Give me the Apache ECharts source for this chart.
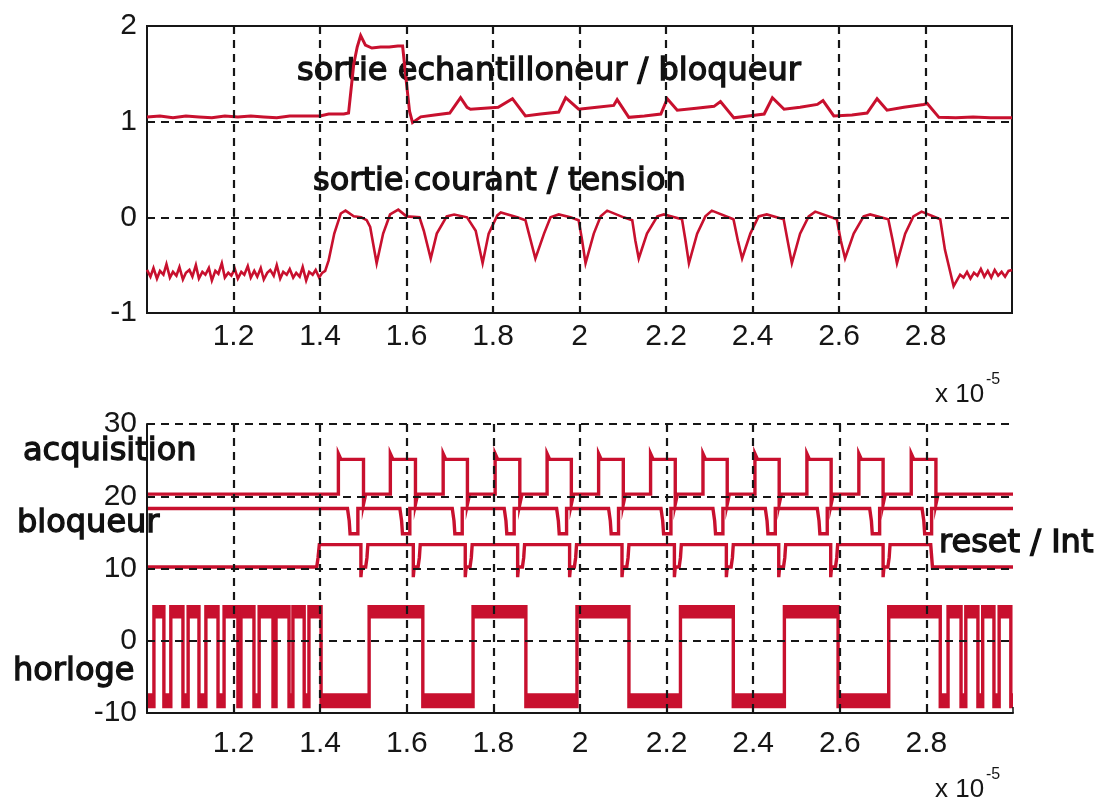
<!DOCTYPE html>
<html>
<head>
<meta charset="utf-8">
<script src="https://cdn.jsdelivr.net/npm/echarts@6/dist/echarts.min.js"></script>
<style>
  html, body { margin: 0; padding: 0; background: #ffffff; }
  #chart { width: 1096px; height: 803px; }
</style>
</head>
<body>
<div id="chart"></div>
<script>
// Time axis is expressed in units of 1e-5 s (see the "x 10^-5" note under each axis).
const xTickValues = [1.2, 1.4, 1.6, 1.8, 2.0, 2.2, 2.4, 2.6, 2.8];
const xTickLabels = ['1.2', '1.4', '1.6', '1.8', '2', '2.2', '2.4', '2.6', '2.8'];

// ---------- top panel: analog outputs [t, V] ----------
// sample-and-hold output
const sortieEchBloq = [
  [1.000, 1.05], [1.030, 1.06], [1.060, 1.04], [1.090, 1.06], [1.120, 1.05], [1.150, 1.04],
  [1.180, 1.06], [1.210, 1.05], [1.240, 1.06], [1.270, 1.05], [1.300, 1.04], [1.330, 1.06],
  [1.360, 1.06], [1.400, 1.06], [1.420, 1.08], [1.455, 1.08], [1.466, 1.09], [1.478, 1.60],
  [1.486, 1.78], [1.494, 1.90], [1.505, 1.80], [1.520, 1.77], [1.540, 1.78], [1.560, 1.78],
  [1.580, 1.79], [1.591, 1.79], [1.600, 1.40], [1.607, 1.11], [1.614, 0.99], [1.633, 1.05],
  [1.665, 1.07], [1.700, 1.09], [1.725, 1.25], [1.740, 1.15], [1.748, 1.13], [1.780, 1.14],
  [1.812, 1.15], [1.845, 1.24], [1.875, 1.06], [1.910, 1.08], [1.952, 1.10], [1.968, 1.25],
  [1.998, 1.13], [2.040, 1.15], [2.079, 1.17], [2.087, 1.23], [2.114, 1.045], [2.150, 1.06],
  [2.188, 1.08], [2.203, 1.24], [2.226, 1.12], [2.270, 1.14], [2.311, 1.16], [2.326, 1.21],
  [2.357, 1.04], [2.390, 1.06], [2.427, 1.08], [2.446, 1.25], [2.473, 1.13], [2.510, 1.15],
  [2.550, 1.18], [2.563, 1.22], [2.588, 1.06], [2.630, 1.07], [2.665, 1.09], [2.688, 1.24],
  [2.711, 1.12], [2.750, 1.15], [2.796, 1.18], [2.804, 1.19], [2.831, 1.045], [2.870, 1.04],
  [2.910, 1.05], [2.950, 1.04], [3.000, 1.04]
];

// current-to-voltage converter output
const sortieCourTens = [
  [1.000, -0.55], [1.008, -0.62], [1.015, -0.53], [1.023, -0.64], [1.030, -0.56], [1.038, -0.60],
  [1.045, -0.49], [1.053, -0.63], [1.060, -0.57], [1.068, -0.61], [1.075, -0.52], [1.083, -0.65],
  [1.090, -0.58], [1.098, -0.55], [1.105, -0.62], [1.113, -0.50], [1.120, -0.64], [1.128, -0.57],
  [1.135, -0.60], [1.143, -0.53], [1.150, -0.66], [1.158, -0.56], [1.165, -0.59], [1.173, -0.48],
  [1.180, -0.63], [1.188, -0.58], [1.195, -0.61], [1.203, -0.54], [1.210, -0.64], [1.218, -0.57],
  [1.225, -0.60], [1.233, -0.51], [1.240, -0.63], [1.248, -0.56], [1.255, -0.62], [1.263, -0.53],
  [1.270, -0.65], [1.278, -0.58], [1.285, -0.55], [1.293, -0.61], [1.300, -0.50], [1.308, -0.64],
  [1.315, -0.57], [1.323, -0.60], [1.330, -0.54], [1.338, -0.63], [1.345, -0.58], [1.353, -0.62],
  [1.360, -0.52], [1.368, -0.66], [1.375, -0.57], [1.383, -0.60], [1.390, -0.55], [1.398, -0.63],
  [1.405, -0.58], [1.412, -0.56], [1.420, -0.45], [1.433, -0.17], [1.448, 0.04], [1.459, 0.07],
  [1.478, 0.01], [1.495, 0.00], [1.508, -0.03], [1.516, -0.10], [1.531, -0.48], [1.546, -0.17],
  [1.562, 0.03], [1.581, 0.08], [1.600, 0.01], [1.630, 0.00], [1.640, -0.14], [1.656, -0.43],
  [1.670, -0.17], [1.693, 0.01], [1.710, 0.03], [1.740, 0.00], [1.760, -0.14], [1.776, -0.48],
  [1.790, -0.17], [1.810, 0.02], [1.818, 0.05], [1.856, 0.00], [1.875, -0.03], [1.883, -0.17],
  [1.898, -0.43], [1.918, -0.17], [1.933, 0.00], [1.952, 0.03], [1.979, 0.00], [1.998, -0.03],
  [2.006, -0.24], [2.014, -0.48], [2.033, -0.17], [2.049, 0.01], [2.064, 0.07], [2.102, 0.00],
  [2.122, -0.03], [2.129, -0.24], [2.137, -0.43], [2.156, -0.17], [2.180, 0.01], [2.195, 0.03],
  [2.237, -0.02], [2.245, -0.24], [2.253, -0.48], [2.272, -0.17], [2.291, 0.01], [2.306, 0.07],
  [2.356, -0.02], [2.366, -0.24], [2.376, -0.43], [2.395, -0.17], [2.414, 0.01], [2.433, 0.03],
  [2.472, -0.02], [2.481, -0.24], [2.491, -0.48], [2.510, -0.17], [2.530, 0.01], [2.545, 0.06],
  [2.595, -0.02], [2.604, -0.24], [2.614, -0.43], [2.634, -0.17], [2.657, 0.01], [2.672, 0.03],
  [2.714, -0.02], [2.724, -0.24], [2.734, -0.48], [2.753, -0.17], [2.772, 0.01], [2.791, 0.06],
  [2.834, -0.02], [2.845, -0.34], [2.865, -0.72], [2.880, -0.60], [2.888, -0.63], [2.896, -0.57],
  [2.904, -0.64], [2.912, -0.58], [2.920, -0.61], [2.928, -0.54], [2.936, -0.62], [2.944, -0.56],
  [2.952, -0.63], [2.960, -0.55], [2.968, -0.61], [2.976, -0.57], [2.984, -0.62], [2.992, -0.56],
  [3.000, -0.55]
];

// ---------- bottom panel: logic signals ----------
// acquisition command: pulse edges and levels
const acqRise = [1.442, 1.562, 1.684, 1.804, 1.924, 2.043, 2.163, 2.284, 2.404, 2.524, 2.644, 2.765];
const acqFall = [1.500, 1.620, 1.740, 1.861, 1.980, 2.100, 2.220, 2.340, 2.460, 2.580, 2.700, 2.822];
const acqLow = 20.3, acqHigh = 25.1, acqPeak = 25.9, acqDip = 18.9;

// hold command: short low dips and levels
const blqDown = [1.463, 1.584, 1.705, 1.825, 1.946, 2.066, 2.187, 2.307, 2.428, 2.548, 2.669, 2.790];
const blqUp   = [1.487, 1.607, 1.728, 1.848, 1.969, 2.089, 2.210, 2.330, 2.451, 2.571, 2.692, 2.812];
const blqHigh = 18.3, blqShoulder = 16.6, blqLow = 14.8;

// reset / integrate command
const rstOn = 1.392, rstOff = 2.810;
const rstDown = [1.494, 1.615, 1.735, 1.856, 1.976, 2.097, 2.218, 2.338, 2.459, 2.579, 2.700];
const rstUp   = [1.510, 1.631, 1.751, 1.872, 1.992, 2.113, 2.234, 2.354, 2.475, 2.595, 2.716];
const rstHigh = 13.3, rstMid = 11.5, rstLow = 10.2, rstSpike = 8.8;

// clock: high intervals
const clkRise = [1.016, 1.055, 1.095, 1.136, 1.178, 1.217, 1.259, 1.298, 1.337, 1.374,
                 1.513, 1.753, 1.993, 2.232, 2.472, 2.713,
                 2.850, 2.891, 2.930, 2.968];
const clkFall = [1.039, 1.083, 1.120, 1.164, 1.210, 1.247, 1.291, 1.328, 1.363, 1.402,
                 1.637, 1.875, 2.113, 2.354, 2.596, 2.832,
                 2.880, 2.919, 2.956, 2.995];
const clkHigh = 4.7, clkLow = -9.1, clkNoiseHigh = 3.9, clkNoiseLow = -8.1;

const T0 = 1.0, T1 = 3.0;

// ---------- build step paths from the edge lists ----------
const acqPath = [[T0, acqLow]];
acqRise.forEach((r, i) => {
  const f = acqFall[i];
  acqPath.push([r, acqLow], [r, acqPeak], [r + 0.006, acqHigh], [f, acqHigh],
               [f, acqDip], [f + 0.005, acqLow]);
});
acqPath.push([T1, acqLow]);

const blqPath = [[T0, blqHigh]];
blqDown.forEach((d, i) => {
  const u = blqUp[i];
  blqPath.push([d, blqHigh], [d + 0.004, blqShoulder], [d + 0.006, blqLow], [u, blqLow], [u, blqHigh]);
});
blqPath.push([T1, blqHigh]);

const rstPath = [[T0, rstLow], [rstOn, rstLow], [rstOn + 0.003, rstMid], [rstOn + 0.006, rstHigh]];
rstDown.forEach((d, i) => {
  const u = rstUp[i];
  rstPath.push([d, rstHigh], [d, rstSpike], [d + 0.002, rstLow], [u - 0.005, rstLow],
               [u - 0.002, rstMid], [u, rstHigh]);
});
rstPath.push([rstOff, rstHigh], [rstOff + 0.004, rstLow], [T1, rstLow]);

const clkPath = [[T0, clkLow]];
clkRise.forEach((r, i) => {
  const f = clkFall[i];
  clkPath.push([r, clkLow], [r, clkHigh], [f, clkHigh], [f, clkLow]);
});
clkPath.push([T1, clkLow]);

// noisy plateaus of the clock drawn as thick bands (gaps break the line)
const clkBands = [];
let prev = T0;
clkRise.forEach((r, i) => {
  const f = clkFall[i];
  clkBands.push([prev, clkNoiseLow], [r, clkNoiseLow], [r, '-']);
  clkBands.push([r, clkNoiseHigh], [f, clkNoiseHigh], [f, '-']);
  prev = f;
});
clkBands.push([prev, clkNoiseLow], [T1, clkNoiseLow]);

// ---------- chart ----------
const RED = '#c8102e';
const INK = '#161616';
const tickFont = { fontFamily: '"Liberation Sans"', fontSize: 30, color: INK };
const dash = { type: [8, 6], color: INK, width: 2.2 };
const noteFont = '32px "DejaVu Sans"';

function xLabel(v) {
  const k = xTickValues.findIndex(t => Math.abs(t - v) < 1e-6);
  return k >= 0 ? xTickLabels[k] : '';
}

function sig(name, data, xi, width, extra) {
  return Object.assign({
    name, type: 'line', data, xAxisIndex: xi, yAxisIndex: xi,
    showSymbol: false, symbol: 'none', silent: true,
    lineStyle: { color: RED, width, join: 'miter' }
  }, extra || {});
}

function note(text, x, y) {
  return { type: 'text', x, y, style: { text, font: noteFont, fill: '#111', stroke: '#111', lineWidth: 1.3, textVerticalAlign: 'middle' } };
}

const chart = echarts.init(document.getElementById('chart'), null, { renderer: 'canvas' });

chart.setOption({
  animation: false,
  backgroundColor: '#ffffff',
  grid: [
    { left: 147, top: 26, width: 865, height: 287, show: true, borderColor: INK, borderWidth: 2, backgroundColor: 'transparent' },
    { left: 147, top: 424, width: 866, height: 289 }
  ],
  xAxis: [
    {
      gridIndex: 0, type: 'value', min: 1.0, max: 3.0, interval: 0.2, z: 5,
      axisLine: { show: false },
      axisTick: { show: true, inside: true, length: 6, lineStyle: { color: INK, width: 1.5 } },
      axisLabel: Object.assign({ margin: 9, formatter: xLabel }, tickFont),
      splitLine: { show: true, showMinLine: false, showMaxLine: false, lineStyle: dash }
    },
    {
      gridIndex: 1, type: 'value', min: 1.0, max: 3.0, interval: 0.2, z: 5,
      axisLine: { show: true, onZero: false, lineStyle: { color: INK, width: 2 } },
      axisTick: { show: true, inside: true, length: 6, lineStyle: { color: INK, width: 1.5 } },
      axisLabel: Object.assign({ margin: 16, formatter: xLabel }, tickFont),
      splitLine: { show: true, showMinLine: false, showMaxLine: false, lineStyle: dash }
    }
  ],
  yAxis: [
    {
      gridIndex: 0, type: 'value', min: -1, max: 2, interval: 1, z: 5,
      axisLine: { show: false },
      axisTick: { show: false },
      axisLabel: Object.assign({ margin: 10 }, tickFont),
      splitLine: { show: true, showMinLine: false, showMaxLine: false, lineStyle: dash }
    },
    {
      gridIndex: 1, type: 'value', min: -10, max: 30, interval: 10, z: 5,
      axisLine: { show: true, onZero: false, lineStyle: { color: INK, width: 2 } },
      axisTick: { show: false },
      axisLabel: Object.assign({ margin: 10 }, tickFont),
      splitLine: { show: true, showMinLine: false, showMaxLine: true, lineStyle: dash }
    }
  ],
  series: [
    sig('sortie echantilloneur / bloqueur', sortieEchBloq, 0, 3),
    sig('sortie courant / tension', sortieCourTens, 0, 2.6),
    sig('acquisition', acqPath, 1, 3.4),
    sig('bloqueur', blqPath, 1, 3.4),
    sig('reset / Int', rstPath, 1, 3.4),
    sig('horloge', clkPath, 1, 3.4),
    sig('horloge bruit', clkBands, 1, 12, { connectNulls: false, lineStyle: { color: RED, width: 12, cap: 'butt' } })
  ],
  graphic: [
    note('sortie echantilloneur / bloqueur', 297, 72),
    note('sortie courant / tension', 313, 182),
    note('acquisition', 23, 452),
    note('bloqueur', 17, 524),
    note('reset / Int', 939, 544),
    note('horloge', 13, 672),
    { type: 'text', x: 935, y: 395, style: { text: 'x 10', font: '26px "Liberation Sans"', fill: INK, textVerticalAlign: 'middle' } },
    { type: 'text', x: 986, y: 380, style: { text: '-5', font: '16px "Liberation Sans"', fill: INK, textVerticalAlign: 'middle' } },
    { type: 'text', x: 935, y: 790, style: { text: 'x 10', font: '26px "Liberation Sans"', fill: INK, textVerticalAlign: 'middle' } },
    { type: 'text', x: 986, y: 775, style: { text: '-5', font: '16px "Liberation Sans"', fill: INK, textVerticalAlign: 'middle' } }
  ]
});
</script>
</body>
</html>
